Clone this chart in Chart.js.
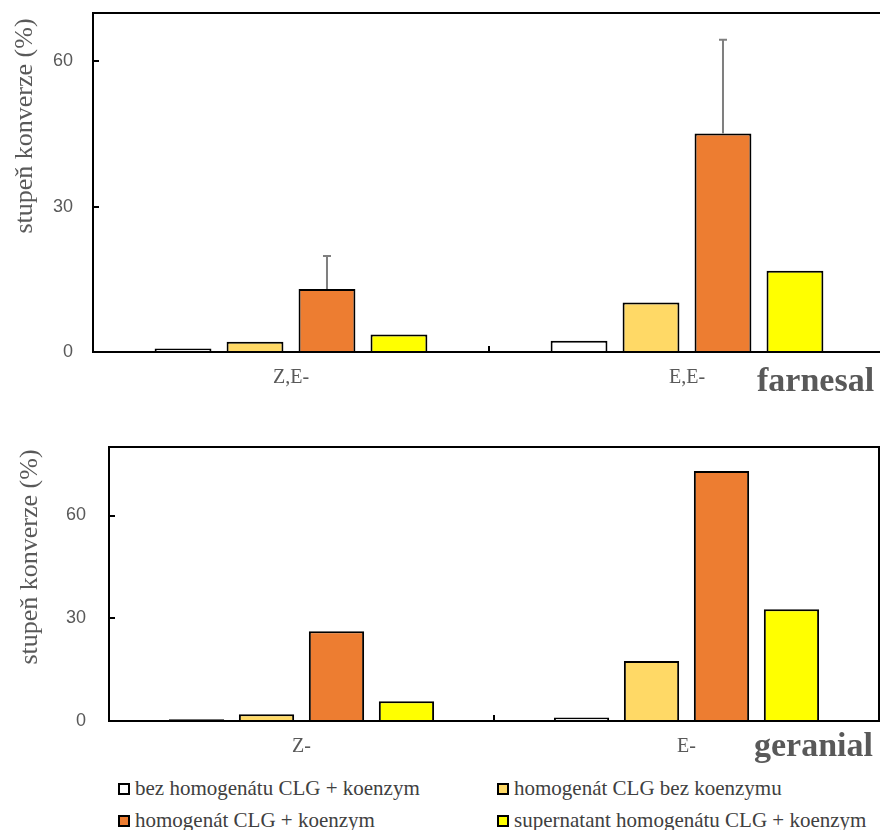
<!DOCTYPE html>
<html>
<head>
<meta charset="utf-8">
<script src="https://cdn.jsdelivr.net/npm/chart.js@4.4.1/dist/chart.umd.min.js"></script>
<style>
    html, body { margin: 0; padding: 0; background: #fff; overflow: hidden; }
    #page { position: relative; width: 880px; height: 830px; overflow: hidden; }
    canvas { position: absolute; left: 0; }
    .ytitle { position: absolute; font-family: "Liberation Serif", serif; font-size: 26px; color: #595959;
              white-space: nowrap; transform: translate(-50%, -50%) rotate(-90deg); }
    .name { position: absolute; font-family: "Liberation Serif", serif; font-weight: bold; font-size: 34px;
            line-height: 1; color: #595959; white-space: nowrap; }
    .leg { position: absolute; font-family: "Liberation Serif", serif; font-size: 21px; line-height: 1;
           color: #404040; white-space: nowrap; display: flex; align-items: center; }
    .leg i { display: inline-block; width: 8px; height: 8px; border: 2px solid #000; margin-right: 5px; }
</style>
</head>
<body>
<div id="page">
    <canvas id="farnesalChart" width="900" height="400" style="top:0px"></canvas>
    <canvas id="geranialChart" width="900" height="360" style="top:400px"></canvas>
    <div class="ytitle" style="left:24px; top:126px">stupeň konverze (%)</div>
    <div class="ytitle" style="left:29px; top:557px">stupeň konverze (%)</div>
    <div class="name" style="left:757px; top:363px">farnesal</div>
    <div class="name" style="left:754px; top:728px">geranial</div>
    <div id="legend"></div>
</div>
<script>
const seriesNames = ["bez homogenátu CLG + koenzym", "homogenát CLG bez koenzymu",
    "homogenát CLG + koenzym", "supernatant homogenátu CLG + koenzym"]
const seriesColors = ["#ffffff", "#ffd966", "#ed7d31", "#ffff00"]

const farnesalLabels = ["Z,E-", "E,E-"]
const farnesalBez = [0.7, 2.3]
const farnesalHomBez = [2.1, 10.2]
const farnesalHomKo = [13.0, 45.1]
const farnesalSuper = [3.6, 16.8]
const farnesalHomKoErr = [6.8, 19.4]

const geranialLabels = ["Z-", "E-"]
const geranialBez = [0.5, 1.0]
const geranialHomBez = [2.0, 17.5]
const geranialHomKo = [26.2, 73.0]
const geranialSuper = [5.8, 32.6]

const yTicks = [0, 30, 60]

const greyText = "#595959"

// box round the plot, short ticks pointing inwards, error bars
const framePlugin = {
    id: "frame",
    afterDatasetsDraw(chart) {
        let ctx = chart.ctx
        let area = chart.chartArea
        let yScale = chart.scales.y
        let xScale = chart.scales.x

        ctx.save()
        ctx.strokeStyle = "#7f7f7f"
        ctx.lineWidth = 2
        chart.data.datasets.forEach((ds, i) => {
            if (!ds.errors) return
            let meta = chart.getDatasetMeta(i)
            meta.data.forEach((bar, j) => {
                let top = yScale.getPixelForValue(ds.data[j] + ds.errors[j])
                ctx.beginPath()
                ctx.moveTo(bar.x, bar.y)
                ctx.lineTo(bar.x, top)
                ctx.moveTo(bar.x - 4, top)
                ctx.lineTo(bar.x + 4, top)
                ctx.stroke()
            })
        })

        ctx.strokeStyle = "#000"
        ctx.lineWidth = 2
        ctx.strokeRect(area.left, area.top, area.right - area.left, area.bottom - area.top)

        ctx.beginPath()
        yScale.ticks.forEach(t => {
            let y = Math.round(yScale.getPixelForValue(t.value))
            ctx.moveTo(area.left, y)
            ctx.lineTo(area.left + 6, y)
        })
        for (let k = 1; k < xScale.ticks.length; k++) {
            let x = Math.round((xScale.getPixelForTick(k - 1) + xScale.getPixelForTick(k)) / 2)
            ctx.moveTo(x, area.bottom)
            ctx.lineTo(x, area.bottom - 6)
        }
        ctx.stroke()
        ctx.restore()
    }
}

function noPadding(scale) {
    scale.paddingTop = 0
    scale.paddingBottom = 0
    scale.paddingLeft = 0
    scale.paddingRight = 0
}

function makeDatasets(lists, errors) {
    return lists.map((values, i) => ({
        label: seriesNames[i],
        data: values,
        errors: errors[i],
        backgroundColor: seriesColors[i],
        borderColor: "#000",
        borderWidth: 2,
        categoryPercentage: 0.727,
        barPercentage: 0.79
    }))
}

function drawChart(canvasId, labels, datasets, box) {
    new Chart(document.getElementById(canvasId).getContext("2d"), {
        type: "bar",
        data: { labels: labels, datasets: datasets },
        options: {
            responsive: false,
            animation: false,
            layout: { padding: { top: box.top, right: box.right, left: 0, bottom: 0 } },
            plugins: { legend: { display: false }, tooltip: { enabled: false } },
            scales: {
                x: {
                    grid: { display: false },
                    border: { display: false },
                    ticks: { color: greyText, padding: 6, font: { family: "Liberation Serif", size: 20 } },
                    afterFit(scale) { scale.height = box.xHeight; noPadding(scale) }
                },
                y: {
                    min: 0,
                    max: box.max,
                    grid: { display: false },
                    border: { display: false },
                    ticks: { color: greyText, padding: box.yPad, font: { family: "Liberation Sans", size: 18 } },
                    afterBuildTicks(scale) { scale.ticks = yTicks.map(v => ({ value: v })) },
                    afterFit(scale) { scale.width = box.yWidth; noPadding(scale) }
                }
            }
        },
        plugins: [framePlugin]
    })
}

function buildLegend() {
    let legend = document.getElementById("legend")
    let spots = [[118, 778], [497, 778], [118, 810], [497, 810]]
    seriesNames.forEach((name, i) => {
        let item = document.createElement("div")
        item.className = "leg"
        item.style.left = spots[i][0] + "px"
        item.style.top = spots[i][1] + "px"
        let box = document.createElement("i")
        box.style.background = seriesColors[i]
        item.appendChild(box)
        item.appendChild(document.createTextNode(name))
        legend.appendChild(item)
    })
}

drawChart("farnesalChart", farnesalLabels,
    makeDatasets([farnesalBez, farnesalHomBez, farnesalHomKo, farnesalSuper], [null, null, farnesalHomKoErr, null]),
    { top: 13, right: 15, xHeight: 48, yWidth: 93, yPad: 12, max: 70 })

drawChart("geranialChart", geranialLabels,
    makeDatasets([geranialBez, geranialHomBez, geranialHomKo, geranialSuper], [null, null, null, null]),
    { top: 47, right: 21, xHeight: 39, yWidth: 109, yPad: 15, max: 80 })

buildLegend()
</script>
</body>
</html>
